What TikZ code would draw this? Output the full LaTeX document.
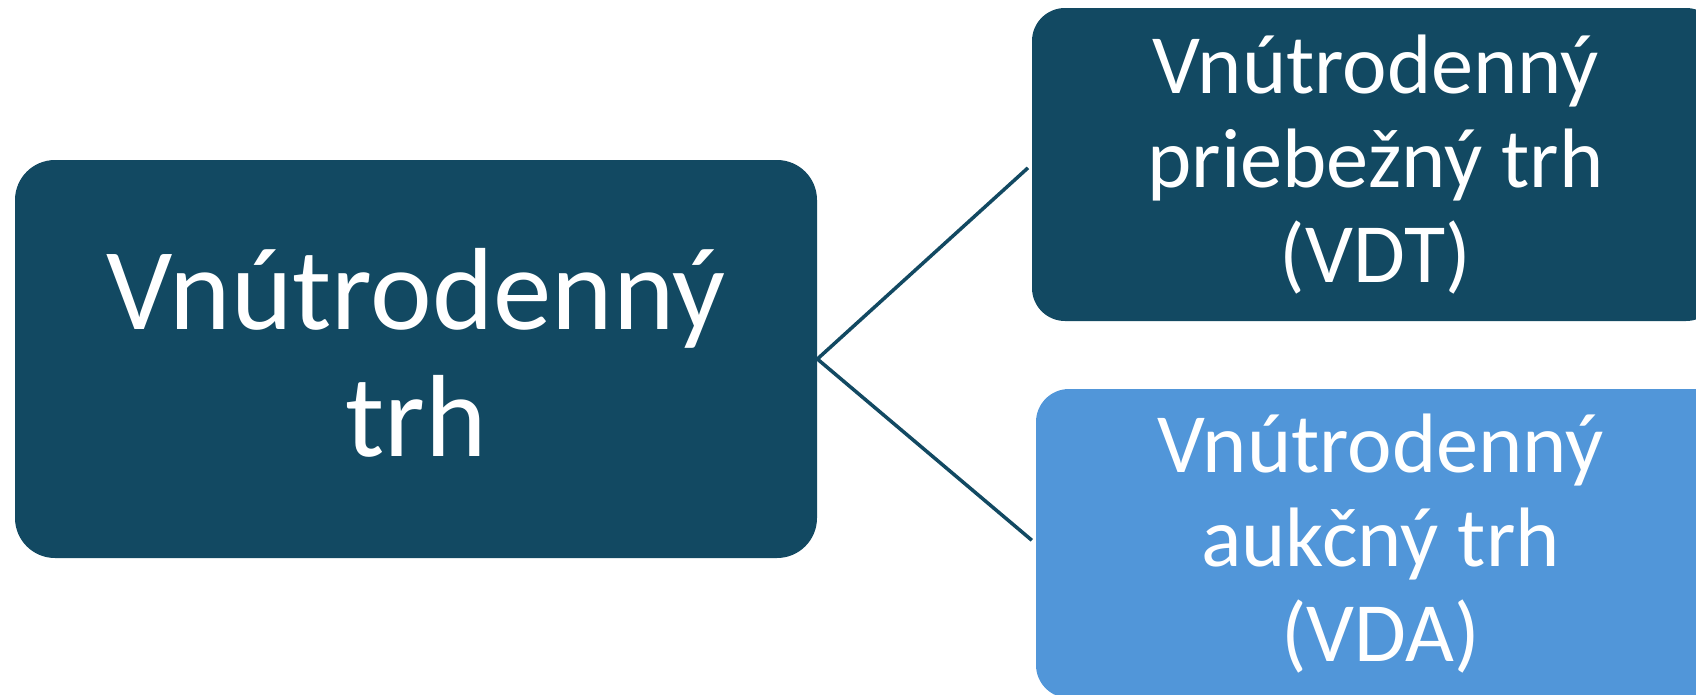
\documentclass[tikz,border=0pt]{standalone}
\usepackage{fontspec}
\setmainfont{Carlito}
\usepackage{tikz}
\definecolor{darkblue}{RGB}{18,73,98}
\definecolor{lightblue}{RGB}{81,150,217}
\tikzset{
	mainbox/.style  = {fill = darkblue, rectangle, rounded corners = 0.8cm,
		text = white, align = center, minimum width = 16.04cm,
		minimum height = 7.96cm, text depth = 0.26cm,
		font = \fontsize{66.5}{72}\selectfont},
	subbox/.style   = {rectangle, rounded corners = 0.66cm, text = white,
		align = center, font = \fontsize{48}{54}\selectfont},
	link/.style     = {draw = darkblue, line width = 2pt}
}

\begin{document}
\begin{tikzpicture}
	
	\clip (0,0) rectangle (33.92,-13.88);
	
	\draw
	node at (8.32,-7.18) [mainbox] (root) {Vnútrodenný\\trh}
	node at (27.51,-3.29) [subbox, fill = darkblue, minimum width = 13.74cm,
		minimum height = 6.26cm] (vdt) {Vnútrodenný\\priebežný trh\\(VDT)}
	node at (27.61,-10.87) [subbox, fill = lightblue, minimum width = 13.78cm,
		minimum height = 6.18cm] (vda) {Vnútrodenný\\aukčný trh\\(VDA)};
	
	\draw[link, shorten >= 0.1cm](root.east) -- (vdt.west);
	\draw[link, shorten >= 0.1cm](root.east) -- (vda.west);
	
\end{tikzpicture}
\end{document}
